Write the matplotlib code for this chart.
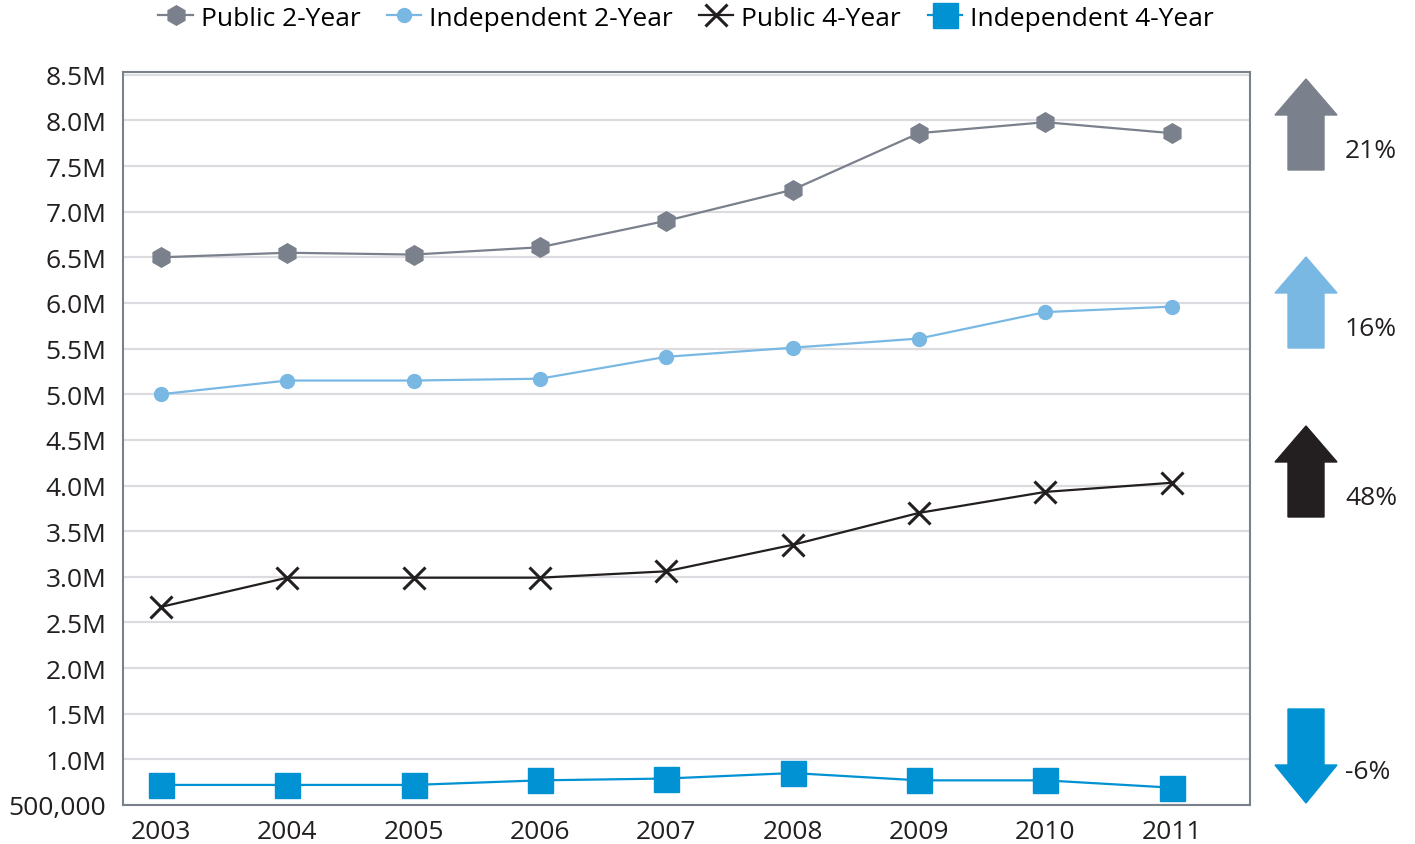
import matplotlib
matplotlib.use("Agg")
import matplotlib.pyplot as plt
from matplotlib.patches import Polygon
from matplotlib.ticker import FuncFormatter

# Данные
years = [2003, 2004, 2005, 2006, 2007, 2008, 2009, 2010, 2011]
public_2yr = [6.50, 6.55, 6.53, 6.61, 6.90, 7.24, 7.86, 7.98, 7.86]
indep_2yr = [5.00, 5.15, 5.15, 5.17, 5.41, 5.51, 5.61, 5.90, 5.96]
public_4yr = [2.67, 2.99, 2.99, 2.99, 3.06, 3.35, 3.70, 3.93, 4.03]
indep_4yr = [0.72, 0.72, 0.72, 0.77, 0.79, 0.85, 0.77, 0.77, 0.69]
series_names = ["Public 2-Year", "Independent 2-Year", "Public 4-Year", "Independent 4-Year"]
changes = [21, 16, 48, -6]

colors = ["#7a808c", "#7ab8e4", "#231f20", "#0092d2"]

plt.rcParams['font.family'] = ['Open Sans', 'DejaVu Sans']

W, H = 1415, 845
fig = plt.figure(figsize=(W / 100, H / 100), dpi=100)
ax = fig.add_axes([123 / W, 1 - 806 / H, (1250 - 123) / W, (806 - 73) / H])

ax.plot(years, public_2yr, color=colors[0], lw=1.6, marker='h', ms=14, label=series_names[0])
ax.plot(years, indep_2yr, color=colors[1], lw=1.6, marker='o', ms=10, label=series_names[1])
ax.plot(years, public_4yr, color=colors[2], lw=1.6, marker='x', ms=16, mew=2.2, label=series_names[2])
ax.plot(years, indep_4yr, color=colors[3], lw=1.6, marker='s', ms=18, label=series_names[3])

ax.set_xlim(2003 - 0.3, 2011 + 0.62)
ax.set_ylim(0.5, 8.53)
ax.set_xticks(years)
ax.set_yticks([0.5 + 0.5 * i for i in range(17)])


def fmt(v, pos):
    if abs(v - 0.5) < 1e-6:
        return "500,000"
    return f"{v:.1f}M"


ax.yaxis.set_major_formatter(FuncFormatter(fmt))
ax.tick_params(length=0, labelsize=19, colors="#231f20")
ax.tick_params(axis='y', pad=12)
ax.tick_params(axis='x', pad=10)
ax.grid(axis='y', color="#dcdce0", lw=1.6)
ax.set_axisbelow(True)
for s in ax.spines.values():
    s.set_color("#7a808c")
    s.set_linewidth(1.5)

fig.legend(*ax.get_legend_handles_labels(), loc='center', bbox_to_anchor=(686 / W, 1 - 19 / H),
           ncol=4, frameon=False, fontsize=19, handlelength=1.3, handletextpad=0.3,
           columnspacing=1.0, borderaxespad=0)

# Стрелки справа
arrow_tops = [80, 258, 427, 710]
cx = 1306
for val, col, top, in zip(changes, colors, arrow_tops):
    hw, sw = 31, 18
    if val >= 0:
        tip, base, bottom = top, top + 36, top + 91
        pts = [(cx, tip), (cx + hw, base), (cx + sw, base), (cx + sw, bottom),
               (cx - sw, bottom), (cx - sw, base), (cx - hw, base)]
        ty = top + 72
    else:
        tail, base, tip = top, top + 56, top + 94
        pts = [(cx - sw, tail), (cx + sw, tail), (cx + sw, base), (cx + hw, base),
               (cx, tip), (cx - hw, base), (cx - sw, base)]
        ty = top + 63
    pts = [(x / W, 1 - y / H) for x, y in pts]
    fig.patches.append(Polygon(pts, closed=True, transform=fig.transFigure, color=col))
    fig.text(1345 / W, 1 - ty / H, f"{val}%", ha='left', va='center', fontsize=19, color="#231f20")

fig.savefig("out.png", dpi=100)
